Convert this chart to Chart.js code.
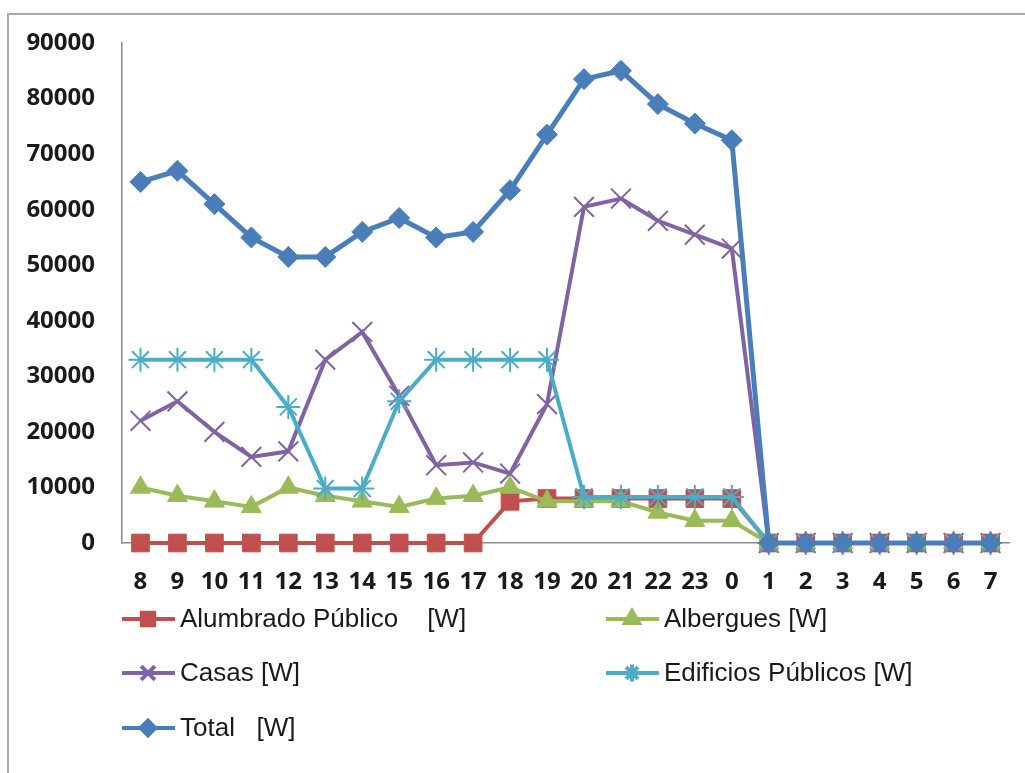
<!DOCTYPE html>
<html>
<head>
<meta charset="utf-8">
<style>
  html, body { margin: 0; padding: 0; background: #ffffff; }
  #wrap { width: 1025px; height: 773px; position: relative; }
</style>
<script src="https://cdn.jsdelivr.net/npm/chart.js@4.4.1/dist/chart.umd.min.js"></script>
</head>
<body>
<div id="wrap"><canvas id="chart" width="1025" height="773"></canvas></div>
<script>
// Hours of the day, starting at 8 in the morning
const hours = ['8','9','10','11','12','13','14','15','16','17','18','19','20','21','22','23','0','1','2','3','4','5','6','7'];

// Power demand per hour [W]
const alumbrado = [0,0,0,0,0,0,0,0,0,0,7500,8000,8000,8000,8000,8000,8000,0,0,0,0,0,0,0];
const albergues = [10000,8500,7500,6500,10000,8500,7500,6500,8000,8500,10000,7500,7500,7500,5500,4000,4000,0,0,0,0,0,0,0];
const casas     = [22000,25500,20000,15500,16500,33000,38000,26500,14000,14500,12500,25000,60500,62000,58000,55500,53000,0,0,0,0,0,0,0];
const edificios = [33000,33000,33000,33000,24500,9800,9800,25500,33000,33000,33000,33000,8300,8300,8300,8300,8300,0,0,0,0,0,0,0];
const total     = [65000,67000,61000,55000,51500,51500,56000,58500,55000,56000,63500,73500,83500,85000,79000,75500,72500,0,0,0,0,0,0,0];

// Series names and y-axis range
const seriesNames = ['Alumbrado Público    [W]', 'Albergues [W]', 'Casas [W]', 'Edificios Públicos [W]', 'Total   [W]'];
const yMin = 0, yMax = 90000, yStep = 10000;

const tickFont = { family: "'Open Sans', 'DejaVu Sans', sans-serif", size: 24, weight: '700' };
const legendFontCss = "26px 'Liberation Sans Narrow', 'Liberation Sans', sans-serif";

// Frame and white background of the chart
const framePlugin = {
  id: 'frame',
  beforeDraw(chart) {
    const ctx = chart.ctx;
    ctx.save();
    ctx.fillStyle = '#ffffff';
    ctx.fillRect(0, 0, chart.width, chart.height);
    ctx.strokeStyle = '#a8a8a8';
    ctx.lineWidth = 2;
    ctx.beginPath();
    ctx.moveTo(8, chart.height);
    ctx.lineTo(8, 14);
    ctx.lineTo(chart.width, 14);
    ctx.stroke();
    ctx.restore();
  }
};

// Legend below the plot, two columns, line + marker + label
const legendPlugin = {
  id: 'sideLegend',
  afterDraw(chart) {
    const ctx = chart.ctx;
    const slots = [
      { ds: 0, x: 122, y: 619 },
      { ds: 1, x: 606, y: 619 },
      { ds: 2, x: 122, y: 673 },
      { ds: 3, x: 606, y: 673 },
      { ds: 4, x: 122, y: 728 }
    ];
    ctx.save();
    slots.forEach(s => {
      const ds = chart.data.datasets[s.ds];
      ctx.strokeStyle = ds.borderColor;
      ctx.lineWidth = 4;
      ctx.beginPath();
      ctx.moveTo(s.x, s.y);
      ctx.lineTo(s.x + 53, s.y);
      ctx.stroke();
      ctx.fillStyle = ds.pointBackgroundColor;
      ctx.strokeStyle = ds.pointBorderColor;
      Chart.helpers.drawPoint(ctx, {
        pointStyle: ds.pointStyle,
        radius: ds.pointRadius * 0.7,
        rotation: 0,
        borderWidth: ds.pointBorderWidth
      }, s.x + 26, s.y);
      ctx.fillStyle = '#1a1a1a';
      ctx.font = legendFontCss;
      ctx.textBaseline = 'middle';
      ctx.textAlign = 'left';
      ctx.fillText(ds.label, s.x + 58, s.y + 1);
    });
    ctx.restore();
  }
};

function series(label, data, color, style, radius, lineW, ptBorderW, order) {
  return {
    label, data, order,
    clip: false,
    borderColor: color,
    backgroundColor: color,
    borderWidth: lineW,
    pointStyle: style,
    pointRadius: radius,
    pointHoverRadius: radius,
    pointBackgroundColor: color,
    pointBorderColor: color,
    pointBorderWidth: ptBorderW,
    tension: 0,
    fill: false
  };
}

new Chart(document.getElementById('chart'), {
  type: 'line',
  data: {
    labels: hours,
    datasets: [
      series(seriesNames[0], alumbrado, '#c0504d', 'rect', 12.5, 4, 1, 4),
      series(seriesNames[1], albergues, '#9bbb59', 'triangle', 11.5, 4, 1, 3),
      series(seriesNames[2], casas, '#8064a2', 'crossRot', 14, 4, 2, 2),
      series(seriesNames[3], edificios, '#4bacc6', 'star', 12, 4, 2, 1),
      series(seriesNames[4], total, '#4a7ebb', 'rectRot', 10.5, 5, 1, 0)
    ]
  },
  options: {
    responsive: false,
    animation: false,
    devicePixelRatio: 1,
    layout: { padding: { top: 43, right: 15, left: 0, bottom: 0 } },
    plugins: {
      legend: { display: false },
      tooltip: { enabled: false }
    },
    scales: {
      x: {
        type: 'category',
        offset: true,
        grid: { display: true, drawOnChartArea: false, drawTicks: false },
        border: { display: true, color: '#8c8c8c', width: 1.5 },
        ticks: {
          autoSkip: false, maxRotation: 0, minRotation: 0,
          padding: 25, color: '#1a1a1a', font: tickFont
        },
        afterFit(scale) { scale.height = 230; }
      },
      y: {
        min: yMin, max: yMax,
        grid: { display: true, drawOnChartArea: false, drawTicks: false },
        border: { display: true, color: '#8c8c8c', width: 1.5 },
        ticks: {
          stepSize: yStep, padding: 27, color: '#1a1a1a', font: tickFont,
          callback: v => String(v)
        },
        afterFit(scale) { scale.width = 122; }
      }
    }
  },
  plugins: [framePlugin, legendPlugin]
});
</script>
</body>
</html>
